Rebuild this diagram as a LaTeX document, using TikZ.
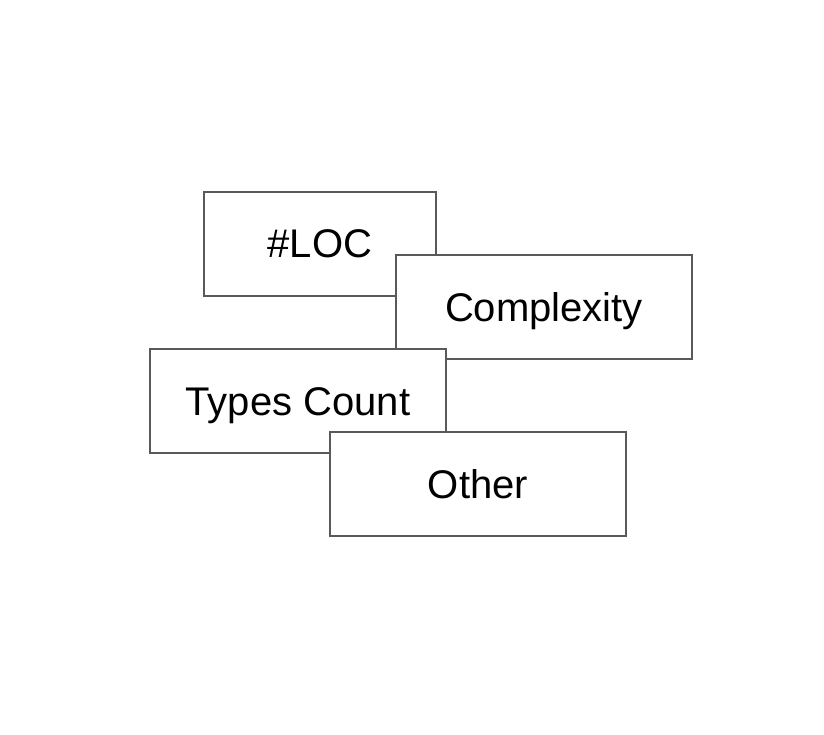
\documentclass[tikz,border=0pt]{standalone}
\usepackage{fontspec}
\setmainfont{Liberation Sans}
\begin{document}
\begin{tikzpicture}[x=0.5pt,y=-0.5pt,line join=miter,
  card/.style={draw=black!65,fill=white,line width=1pt,inner sep=0pt,
    minimum height=52pt,text height=14.3pt,text depth=0pt,
    font=\fontsize{20}{24}\selectfont},
  smallcard/.style={card,minimum width=116pt},
  widecard/.style={card,minimum width=148pt}]
  % Frame of the artwork, in pixels of the reference.
  \useasboundingbox (0,0) rectangle (824,734);

  % Card centres, listed back to front.
  \coordinate (c0) at (320,243.5);
  \coordinate (c1) at (544,307);
  \coordinate (c2) at (298,401);
  \coordinate (c3) at (478,484);

  % Later cards are drawn over the earlier ones.
  \node[smallcard] (loc) at (c0) {\#LOC};
  \node[widecard] (complexity) at (c1) {Complexity};
  \node[widecard] (types) at (c2) {Types Count};
  \node[widecard] (other) at (c3) {Other};
\end{tikzpicture}
\end{document}
